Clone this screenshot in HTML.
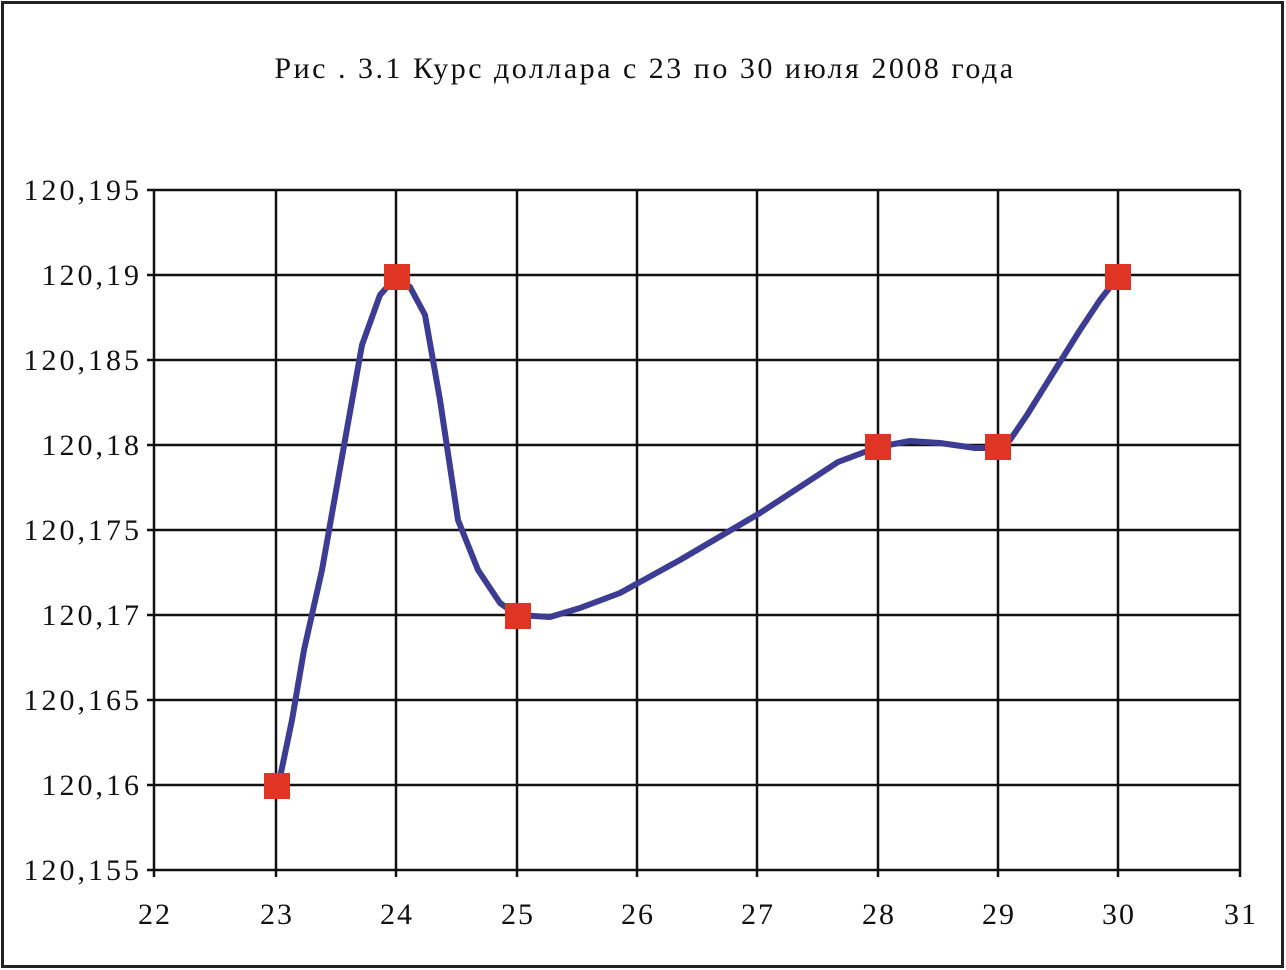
<!DOCTYPE html>
<html><head><meta charset="utf-8"><style>
html,body{margin:0;padding:0;background:#fff;}
svg{display:block;}
text{font-family:"Liberation Serif",serif;fill:#111;}
</style></head><body>
<svg width="1286" height="970" viewBox="0 0 1286 970">
<rect x="2.5" y="2.5" width="1280" height="964" fill="#fff" stroke="#222" stroke-width="3"/>
<text x="645" y="78" font-size="30" letter-spacing="2.5" text-anchor="middle">Рис . 3.1 Курс доллара с 23 по 30 июля 2008 года</text>
<g stroke="#111" stroke-width="2.5">
<line x1="154" y1="190" x2="1240" y2="190"/>
<line x1="154" y1="275" x2="1240" y2="275"/>
<line x1="154" y1="360" x2="1240" y2="360"/>
<line x1="154" y1="445" x2="1240" y2="445"/>
<line x1="154" y1="530" x2="1240" y2="530"/>
<line x1="154" y1="615" x2="1240" y2="615"/>
<line x1="154" y1="700" x2="1240" y2="700"/>
<line x1="154" y1="785" x2="1240" y2="785"/>
<line x1="147" y1="870" x2="1240" y2="870"/>
<line x1="147" y1="190" x2="154" y2="190"/><line x1="147" y1="275" x2="154" y2="275"/><line x1="147" y1="360" x2="154" y2="360"/><line x1="147" y1="445" x2="154" y2="445"/><line x1="147" y1="530" x2="154" y2="530"/><line x1="147" y1="615" x2="154" y2="615"/><line x1="147" y1="700" x2="154" y2="700"/><line x1="147" y1="785" x2="154" y2="785"/>
<line x1="154" y1="190" x2="154" y2="877"/>
<line x1="276" y1="190" x2="276" y2="877"/>
<line x1="396" y1="190" x2="396" y2="877"/>
<line x1="517" y1="190" x2="517" y2="877"/>
<line x1="637" y1="190" x2="637" y2="877"/>
<line x1="757" y1="190" x2="757" y2="877"/>
<line x1="878" y1="190" x2="878" y2="877"/>
<line x1="998" y1="190" x2="998" y2="877"/>
<line x1="1118" y1="190" x2="1118" y2="877"/>
<line x1="1240" y1="190" x2="1240" y2="877"/>
</g>
<g font-size="30" letter-spacing="3" text-anchor="end">
<text x="142" y="200">120,195</text>
<text x="142" y="285">120,19</text>
<text x="142" y="370">120,185</text>
<text x="142" y="455">120,18</text>
<text x="142" y="540">120,175</text>
<text x="142" y="625">120,17</text>
<text x="142" y="710">120,165</text>
<text x="142" y="795">120,16</text>
<text x="142" y="880">120,155</text>
</g>
<g font-size="30" letter-spacing="2" text-anchor="middle">
<text x="155" y="924">22</text><text x="277" y="924">23</text><text x="397" y="924">24</text><text x="518" y="924">25</text><text x="638" y="924">26</text><text x="758" y="924">27</text><text x="879" y="924">28</text><text x="999" y="924">29</text><text x="1119" y="924">30</text><text x="1241" y="924">31</text>
</g>
<polyline fill="none" stroke="#3c3c94" stroke-width="6" stroke-linejoin="round" stroke-linecap="round"
points="278,787 292,720 304,650 322,570 345,440 362,345 380,295 396,277 410,287 425,315 440,400 458,520 478,570 500,603 517,615 550,617 580,608 620,593 680,560 760,513 838,462 878,447 910,441 940,443 975,448 998,448 1010,440 1027,415 1050,378 1080,330 1100,300 1118,277"/>
<g fill="#e03424">
<rect x="264" y="773" width="26" height="26"/>
<rect x="384" y="264" width="26" height="26"/>
<rect x="505" y="603" width="26" height="26"/>
<rect x="865" y="434" width="26" height="26"/>
<rect x="985" y="434" width="26" height="26"/>
<rect x="1105" y="264" width="26" height="26"/>
</g>
</svg>
</body></html>
